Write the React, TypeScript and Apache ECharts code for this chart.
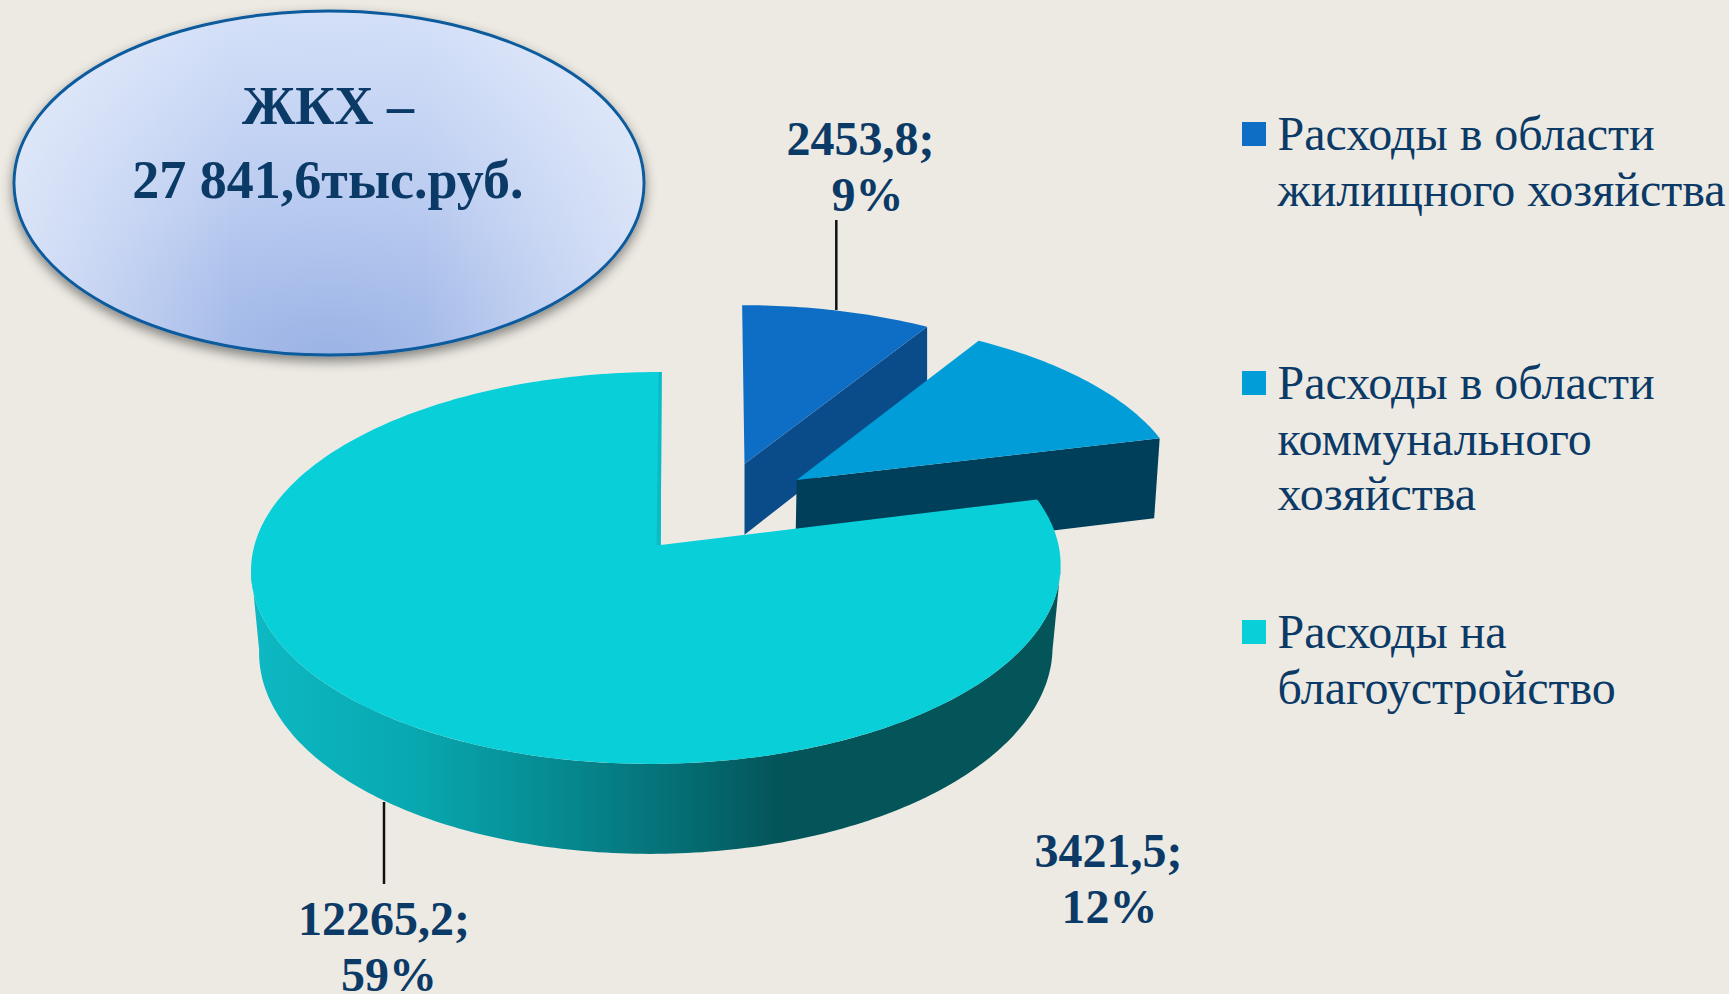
import React, { useEffect, useRef } from "react";
import * as echarts from "echarts";

const categories = [
  "Расходы в области\nжилищного хозяйства",
  "Расходы в области\nкоммунального\nхозяйства",
  "Расходы на\nблагоустройство",
];
// Printed on the chart's labels
const labelValues = [2453.8, 3421.5, 12265.2];
const labelPercents = [9, 12, 59];
// Angular share of each slice as seen in the picture (%)
const drawnShares = [8.8, 12.3, 78.9];
const titleLines = ["ЖКХ –", "27 841,6тыс.руб."];

const W = 1729;
const H = 994;
const BG = "#EDEAE3";
const INK = "#0B3A67";
const SERIF = '"Liberation Serif", "Times New Roman", serif';
const topColors = ["#0E6EC5", "#009DD9", "#09CFD9"];

// Per-slice projection of the tilted pie (layout only)
const views = [
  { ox: 744.5, oy: 464, rx: 384, ry: 176, k: 0.108, tilt: -0.015, depth: 75, apexDx: 0, taper: 1, side: "#0A4C8A" },
  { ox: 796.7, oy: 480, rx: 384, ry: 176, k: 0.0887, tilt: -0.04, depth: 85.3, apexDx: 0, taper: 0.989, side: "#003F5A" },
  { ox: 656.5, oy: 545, rx: 402, ry: 193.3, k: 0.117, tilt: 0.03, depth: 82, apexDx: 4.2, taper: 0.98, side: "" },
];

const wallGradient = new echarts.graphic.LinearGradient(0, 0, 1, 0, [
  { offset: 0, color: "#0DB9C3" },
  { offset: 0.2, color: "#08A8B0" },
  { offset: 0.4, color: "#06868D" },
  { offset: 0.55, color: "#046A70" },
  { offset: 0.65, color: "#04555A" },
  { offset: 1, color: "#04555A" },
]);

type P = [number, number];
type View = (typeof views)[number];

function project(v: View, theta: number): P {
  const u = Math.sin(theta);
  const c = Math.cos(theta);
  const w = 1 + v.k * c;
  const y = v.oy - (v.ry * c) / w;
  const x = v.ox + (v.rx * u) / w + v.tilt * (v.oy - y);
  return [x, y];
}
function lower(v: View, p: P): P {
  return [656 + (p[0] - 656) * v.taper, p[1] + v.depth + 0.0408 * (p[1] - 568)];
}
function arc(v: View, a: number, b: number): P[] {
  const n = Math.max(8, Math.round(Math.abs(b - a) * 60));
  const out: P[] = [];
  for (let i = 0; i <= n; i++) out.push(project(v, a + ((b - a) * i) / n));
  return out;
}

function renderSlice(params: any, api: any) {
  const i = params.dataIndex;
  const v = views[i];
  const total = drawnShares.reduce((s, x) => s + x, 0);
  let before = 0;
  for (let j = 0; j < i; j++) before += drawnShares[j];
  const a = (before / total) * Math.PI * 2;
  const b = ((before + Number(api.value(0))) / total) * Math.PI * 2;
  const rim = arc(v, a, b);
  const apex: P = [v.ox + v.apexDx, v.oy];
  const children: any[] = [];
  if (i === 2) {
    // only the front-facing part of the outer wall, between the two silhouette points
    const turn = Math.acos(-v.k);
    const front = arc(v, Math.max(a, turn), Math.min(b, Math.PI * 2 - turn));
    const wall = front.concat(front.map((p) => lower(v, p)).reverse());
    children.push({ type: "polygon", shape: { points: wall }, style: { fill: wallGradient } });
  } else {
    const end = rim[rim.length - 1];
    children.push({
      type: "polygon",
      shape: { points: [apex, end, lower(v, end), lower(v, apex)] },
      style: { fill: v.side },
    });
  }
  children.push({
    type: "polygon",
    shape: { points: [apex, ...rim] },
    style: { fill: topColors[i] },
  });
  if (i === 2) {
    const last = rim[rim.length - 1];
    children.push({
      type: "polygon",
      shape: { points: [apex, last, [last[0] - 3, last[1]], [apex[0] - 4, apex[1]]] },
      style: { fill: "#0BBAC4" },
    });
  }
  return { type: "group", children };
}

const comma = (n: number) => n.toFixed(1).replace(".", ",");

const labelPlaces: P[] = [
  [860.5, 138],
  [1108.5, 850.5],
  [384, 918.5],
];
const percentShift = [7, 1, 5];
const leaders: [number, number, number][] = [
  [836.3, 220, 310],
  [384, 802, 884],
];
const legendTops = [122, 371, 620];

function buildGraphics() {
  const g: any[] = [
    {
      type: "ellipse",
      shape: { cx: 329, cy: 183, rx: 315, ry: 172 },
      z: 5,
      style: {
        fill: new echarts.graphic.RadialGradient(0.5, 1, 1, [
          { offset: 0, color: "#9BB3E5" },
          { offset: 0.5, color: "#BCCDF1" },
          { offset: 1, color: "#D4E0F8" },
        ]),
        stroke: "#0A5A9C",
        lineWidth: 3,
        shadowBlur: 12,
        shadowOffsetY: 5,
        shadowColor: "rgba(0,0,0,0.45)",
      },
    },
    {
      type: "ellipse",
      shape: { cx: 329, cy: 183, rx: 313.5, ry: 170.5 },
      z: 6,
      style: {
        fill: new echarts.graphic.LinearGradient(0, 0, 1, 0, [
          { offset: 0, color: "rgba(255,255,255,0.38)" },
          { offset: 0.35, color: "rgba(255,255,255,0)" },
          { offset: 0.65, color: "rgba(255,255,255,0)" },
          { offset: 1, color: "rgba(255,255,255,0.38)" },
        ]),
      },
    },
  ];
  titleLines.forEach((t, i) => {
    g.push({
      type: "text",
      z: 10,
      style: {
        text: t,
        x: 328,
        y: i === 0 ? 106 : 180,
        fill: INK,
        font: `bold 54px ${SERIF}`,
        align: "center",
        verticalAlign: "middle",
      },
    });
  });
  leaders.forEach(([x, y1, y2]) => {
    g.push({
      type: "line",
      z: 10,
      shape: { x1: x, y1, x2: x, y2 },
      style: { stroke: "#111111", lineWidth: 2.5 },
    });
  });
  labelPlaces.forEach((p, i) => {
    [`${comma(labelValues[i])};`, `${labelPercents[i]}%`].forEach((t, l) => {
      g.push({
        type: "text",
        z: 10,
        style: {
          text: t,
          x: p[0] + (l ? percentShift[i] : 0),
          y: p[1] + l * 56,
          fill: INK,
          font: `bold 48px ${SERIF}`,
          align: "center",
          verticalAlign: "middle",
        },
      });
    });
  });
  categories.forEach((c, i) => {
    g.push({
      type: "rect",
      z: 10,
      shape: { x: 1242, y: legendTops[i], width: 24, height: 24 },
      style: { fill: topColors[i] },
    });
    const lines = c.split("\n").length;
    g.push({
      type: "text",
      z: 10,
      style: {
        text: c,
        x: 1277.5,
        y: legendTops[i] + 11.5 + ((lines - 1) * 55.5) / 2,
        fill: INK,
        font: `48px ${SERIF}`,
        lineHeight: 55.5,
        align: "left",
        verticalAlign: "middle",
      },
    });
  });
  return g;
}

export default function App() {
  const ref = useRef<HTMLDivElement>(null);
  useEffect(() => {
    document.body.style.background = BG;
    const chart = echarts.init(ref.current!, undefined, { renderer: "svg" });
    chart.setOption({
      animation: false,
      backgroundColor: BG,
      series: [
        {
          type: "custom",
          coordinateSystem: "none",
          name: "ЖКХ",
          silent: true,
          renderItem: renderSlice,
          data: drawnShares.map((s, i) => ({ name: categories[i], value: [s] })),
        },
      ],
      graphic: { elements: buildGraphics() },
    });
    return () => chart.dispose();
  }, []);
  return <div ref={ref} style={{ position: "fixed", left: 0, top: 0, width: W, height: H }} />;
}
